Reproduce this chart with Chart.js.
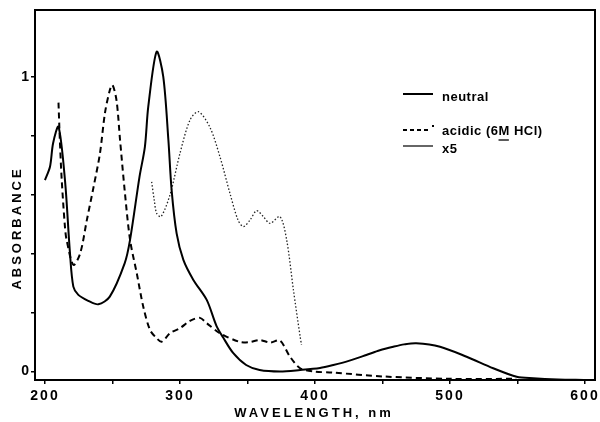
<!DOCTYPE html>
<html><head><meta charset="utf-8">
<script src="https://cdn.jsdelivr.net/npm/chart.js@4.4.0/dist/chart.umd.min.js"></script>
<style>html,body{margin:0;padding:0;background:#fff;}</style>
</head><body>
<canvas id="c" width="600" height="422"></canvas>
<script>
// ---- data ----
const neutralWl  = [200, 203.7, 206, 210, 214.8, 218.5, 221, 224.7, 232, 239.5, 248, 259, 263, 270, 274, 276.5, 282.7, 287.6, 291.4, 293.8, 297.5, 302.5, 309.9, 319.8, 327, 332, 339.5, 349, 359, 374, 389, 403.7, 413.6, 425, 438, 448, 458, 466, 475, 492.6, 512.3, 532, 549.4, 561.7, 580, 599];
const neutralAbs = [0.650, 0.695, 0.775, 0.831, 0.650, 0.402, 0.288, 0.260, 0.240, 0.228, 0.254, 0.367, 0.447, 0.661, 0.763, 0.899, 1.086, 1.001, 0.786, 0.616, 0.469, 0.379, 0.311, 0.243, 0.155, 0.115, 0.062, 0.022, 0.005, 0.000, 0.005, 0.012, 0.022, 0.036, 0.056, 0.072, 0.084, 0.092, 0.096, 0.084, 0.050, 0.011, -0.018, -0.023, -0.027, -0.029];

const acidicWl  = [210, 211, 212.4, 214.8, 216, 221, 226, 231, 236, 240.7, 244.4, 248, 250, 253, 255.6, 259, 263, 268, 272.8, 277.8, 282.7, 286.4, 292.6, 300, 307.4, 314.8, 319.8, 329.6, 344.4, 352, 359, 366.7, 374, 381.5, 389, 398.8, 413.6, 450.6, 500, 549];
const acidicAbs = [0.913, 0.786, 0.650, 0.490, 0.447, 0.362, 0.400, 0.514, 0.627, 0.740, 0.877, 0.955, 0.973, 0.920, 0.786, 0.616, 0.447, 0.333, 0.220, 0.141, 0.113, 0.101, 0.130, 0.147, 0.172, 0.182, 0.164, 0.130, 0.100, 0.100, 0.107, 0.098, 0.105, 0.050, 0.011, 0.000, -0.004, -0.017, -0.025, -0.025];

const x5Wl  = [279, 281, 282.7, 286, 292.6, 300, 307.4, 313.6, 322, 329.6, 337, 343, 347, 351.8, 356.8, 361.7, 366.7, 374, 379, 384, 389, 390];
const x5Abs = [0.644, 0.580, 0.537, 0.526, 0.600, 0.741, 0.854, 0.882, 0.831, 0.729, 0.605, 0.514, 0.492, 0.514, 0.546, 0.526, 0.503, 0.526, 0.447, 0.277, 0.118, 0.090];

const xTicks      = [200, 250, 300, 350, 400, 450, 500, 550, 600];
const xTickLabels = ['200', '', '300', '', '400', '', '500', '', '600'];
const yTicks      = [0, 0.2, 0.4, 0.6, 0.8, 1];
const yTickLabels = ['0', '', '', '', '', '1'];
const seriesNames = ['neutral', 'acidic (6M HCl)', 'x5'];
const xTitle = 'WAVELENGTH, nm';
const yTitle = 'ABSORBANCE';

function pts(xs, ys) { return xs.map((x, i) => ({x: x, y: ys[i]})); }

const FONT = "'Liberation Sans', Arial, sans-serif";

const spacingPlugin = {
  id: 'spacing',
  beforeDraw(chart) { chart.ctx.letterSpacing = '2px'; }
};

const framePlugin = {
  id: 'frame',
  afterDraw(chart) {
    const ctx = chart.ctx, a = chart.chartArea;
    ctx.save();
    ctx.strokeStyle = '#000';
    ctx.lineWidth = 2;
    ctx.strokeRect(a.left, a.top, a.right - a.left, a.bottom - a.top);
    // axis titles
    ctx.fillStyle = '#000';
    ctx.letterSpacing = '3px';
    ctx.font = 'bold 13px ' + FONT;
    ctx.textAlign = 'center';
    ctx.textBaseline = 'middle';
    ctx.fillText(xTitle, 314, 413);
    ctx.translate(17, 228);
    ctx.rotate(-Math.PI / 2);
    ctx.fillText(yTitle, 0, 0);
    ctx.restore();
  }
};

const legendPlugin = {
  id: 'customLegend',
  afterDraw(chart) {
    const ctx = chart.ctx;
    ctx.save();
    ctx.letterSpacing = '0.5px';
    ctx.fillStyle = '#000';
    ctx.strokeStyle = '#000';
    ctx.font = 'bold 13px ' + FONT;
    ctx.textBaseline = 'middle';
    ctx.textAlign = 'left';
    // neutral
    ctx.lineWidth = 2; ctx.setLineDash([]);
    ctx.beginPath(); ctx.moveTo(403, 94); ctx.lineTo(433, 94); ctx.stroke();
    ctx.fillText(seriesNames[0], 442, 97);
    // acidic
    ctx.setLineDash([4, 3]);
    ctx.beginPath(); ctx.moveTo(403, 130); ctx.lineTo(430, 130); ctx.stroke();
    ctx.setLineDash([]);
    ctx.fillRect(432, 125, 2, 2);
    ctx.fillText(seriesNames[1], 442, 131);
    // underline the M
    const pre = ctx.measureText('acidic (6').width;
    const mW = ctx.measureText('M').width;
    ctx.lineWidth = 1.3;
    ctx.beginPath(); ctx.moveTo(442 + pre, 140); ctx.lineTo(442 + pre + mW - 1, 140); ctx.stroke();
    // x5
    ctx.lineWidth = 1.2;
    ctx.beginPath(); ctx.moveTo(403, 146); ctx.lineTo(433, 146); ctx.stroke();
    ctx.fillText(seriesNames[2], 442, 149);
    ctx.restore();
  }
};

new Chart(document.getElementById('c'), {
  type: 'line',
  data: {
    datasets: [
      { label: seriesNames[0], data: pts(neutralWl, neutralAbs), borderColor: '#000', borderWidth: 2, pointRadius: 0, fill: false, tension: 0.3 },
      { label: seriesNames[1], data: pts(acidicWl, acidicAbs), borderColor: '#000', borderWidth: 2, borderDash: [6, 4], pointRadius: 0, fill: false, tension: 0.3 },
      { label: seriesNames[2], data: pts(x5Wl, x5Abs), borderColor: '#222', borderWidth: 1.3, borderDash: [1.5, 2], pointRadius: 0, fill: false, tension: 0.3 }
    ]
  },
  options: {
    responsive: false,
    animation: false,
    events: [],
    layout: { padding: { top: 10, right: 5, left: 0, bottom: 0 } },
    plugins: { legend: { display: false }, tooltip: { enabled: false } },
    scales: {
      x: {
        type: 'linear',
        min: 192.6, max: 607.4,
        afterBuildTicks: s => { s.ticks = xTicks.map(v => ({value: v})); },
        afterFit: s => { s.height = 42; s.paddingLeft = 0; s.paddingRight = 0; },
        ticks: {
          autoSkip: false, maxRotation: 0, padding: 4, color: '#000',
          font: { family: FONT, size: 14, weight: 'bold' },
          callback: v => xTickLabels[xTicks.indexOf(v)]
        },
        grid: { display: true, drawOnChartArea: false, drawTicks: true, tickLength: 4, color: '#000', lineWidth: 1.5 },
        border: { display: true, color: '#000', width: 2 },
        title: { display: false, text: xTitle }
      },
      y: {
        type: 'linear',
        min: -0.029, max: 1.2275,
        afterBuildTicks: s => { s.ticks = yTicks.map(v => ({value: v})); },
        afterFit: s => { s.width = 35; s.paddingTop = 0; s.paddingBottom = 0; },
        ticks: {
          autoSkip: false, padding: 0, color: '#000',
          font: { family: FONT, size: 14, weight: 'bold' },
          callback: v => yTickLabels[yTicks.indexOf(v)]
        },
        grid: { display: true, drawOnChartArea: false, drawTicks: true, tickLength: 4, color: '#000', lineWidth: 1.5 },
        border: { display: true, color: '#000', width: 2 },
        title: { display: false, text: yTitle }
      }
    }
  },
  plugins: [spacingPlugin, framePlugin, legendPlugin]
});
</script>
</body></html>
